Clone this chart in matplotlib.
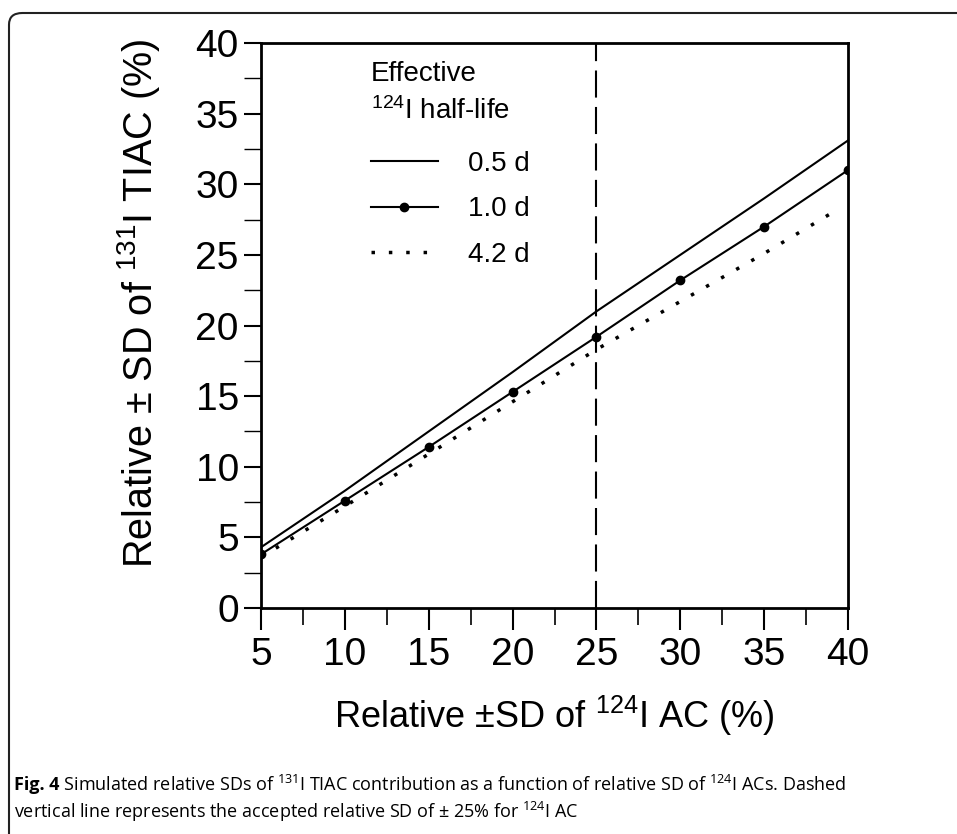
import matplotlib
matplotlib.use("Agg")
import matplotlib.pyplot as plt
from matplotlib.patches import FancyBboxPatch
from matplotlib.ticker import MultipleLocator

plt.rcParams['font.family'] = ['Liberation Sans', 'DejaVu Sans']
plt.rcParams['mathtext.default'] = 'regular'

# relative SD of 124I activity concentrations (%)
sd_124 = [5, 10, 15, 20, 25, 30, 35, 40]
# relative SD of 131I TIAC (%) for each effective 124I half-life
sd_05d = [4.3, 8.3, 12.5, 16.7, 21.0, 25.0, 29.0, 33.1]
sd_10d = [3.8, 7.6, 11.4, 15.3, 19.2, 23.2, 27.0, 31.0]
sd_42d_x = [5, 10, 15, 20, 25, 30, 35, 39.5]
sd_42d = [3.6, 7.2, 10.9, 14.6, 18.3, 21.7, 25.1, 28.3]
accepted_sd = 25

W, H = 957, 834
fig = plt.figure(figsize=(W / 100, H / 100), dpi=100)

# rounded frame around figure + caption
frame = FancyBboxPatch((9 / W, -20 / H), 980 / W, (H - 13 + 20) / H,
                       boxstyle="round,pad=0,rounding_size=0.014",
                       transform=fig.transFigure, fill=False,
                       edgecolor='#222222', linewidth=1.5)
fig.patches.append(frame)

ax = fig.add_axes([261 / W, (H - 608) / H, 587 / W, 565 / H])

ax.plot(sd_124, sd_05d, color='black', lw=1.5, label='0.5 d')
ax.plot(sd_124, sd_10d, color='black', lw=1.5, marker='o', ms=6,
        label='1.0 d')
ax.plot(sd_42d_x, sd_42d, color='black', lw=2.5, linestyle=(0, (1, 4)),
        label='4.2 d')
ax.axvline(accepted_sd, color='black', lw=1.5, dashes=(13, 4.5))

ax.set_xlim(5, 40)
ax.set_ylim(0, 40)
ax.xaxis.set_major_locator(MultipleLocator(5))
ax.xaxis.set_minor_locator(MultipleLocator(2.5))
ax.yaxis.set_major_locator(MultipleLocator(5))
ax.yaxis.set_minor_locator(MultipleLocator(2.5))
ax.tick_params(axis='both', which='both', direction='out', top=False,
               right=False, labelsize=28)
ax.tick_params(axis='x', which='major', length=16, width=1.5, pad=5)
ax.tick_params(axis='x', which='minor', length=12, width=1.2)
ax.tick_params(axis='y', which='major', length=12, width=1.5, pad=4)
ax.tick_params(axis='y', which='minor', length=12, width=1.0)
for s in ax.spines.values():
    s.set_linewidth(2)

ax.set_xlabel(r'Relative $\pm$SD of $^{124}$I AC (%)', fontsize=26, labelpad=15)
ax.set_ylabel(r'Relative $\pm$ SD of $^{131}$I TIAC (%)', fontsize=28.5)
ax.yaxis.set_label_coords(-0.168, 0.54)

leg = ax.legend(loc='upper left', bbox_to_anchor=(0.145, 1.0124),
                title='Effective\n$^{124}$I half-life', title_fontsize=20,
                fontsize=20, frameon=False, handlelength=2.4,
                handletextpad=1.1, labelspacing=0.7, alignment='left')
leg.get_title().set_linespacing(1.45)
leg._legend_box.sep += 5

# caption
cap1 = fig.text(14 / W, (H - 785) / H, 'Fig. 4', fontsize=13,
                fontweight='bold', family='Open Sans', va='center')
ax.annotate(r' Simulated relative SDs of $^{131}$I TIAC contribution as a '
            r'function of relative SD of $^{124}$I ACs. Dashed',
            xy=(1, 0.5), xycoords=cap1, va='center', fontsize=13,
            family='Open Sans', annotation_clip=False)
fig.text(14 / W, (H - 812) / H,
         r'vertical line represents the accepted relative SD of $\pm$ 25% '
         r'for $^{124}$I AC', fontsize=13, family='Open Sans', va='center')

fig.savefig('out.png', dpi=100)
